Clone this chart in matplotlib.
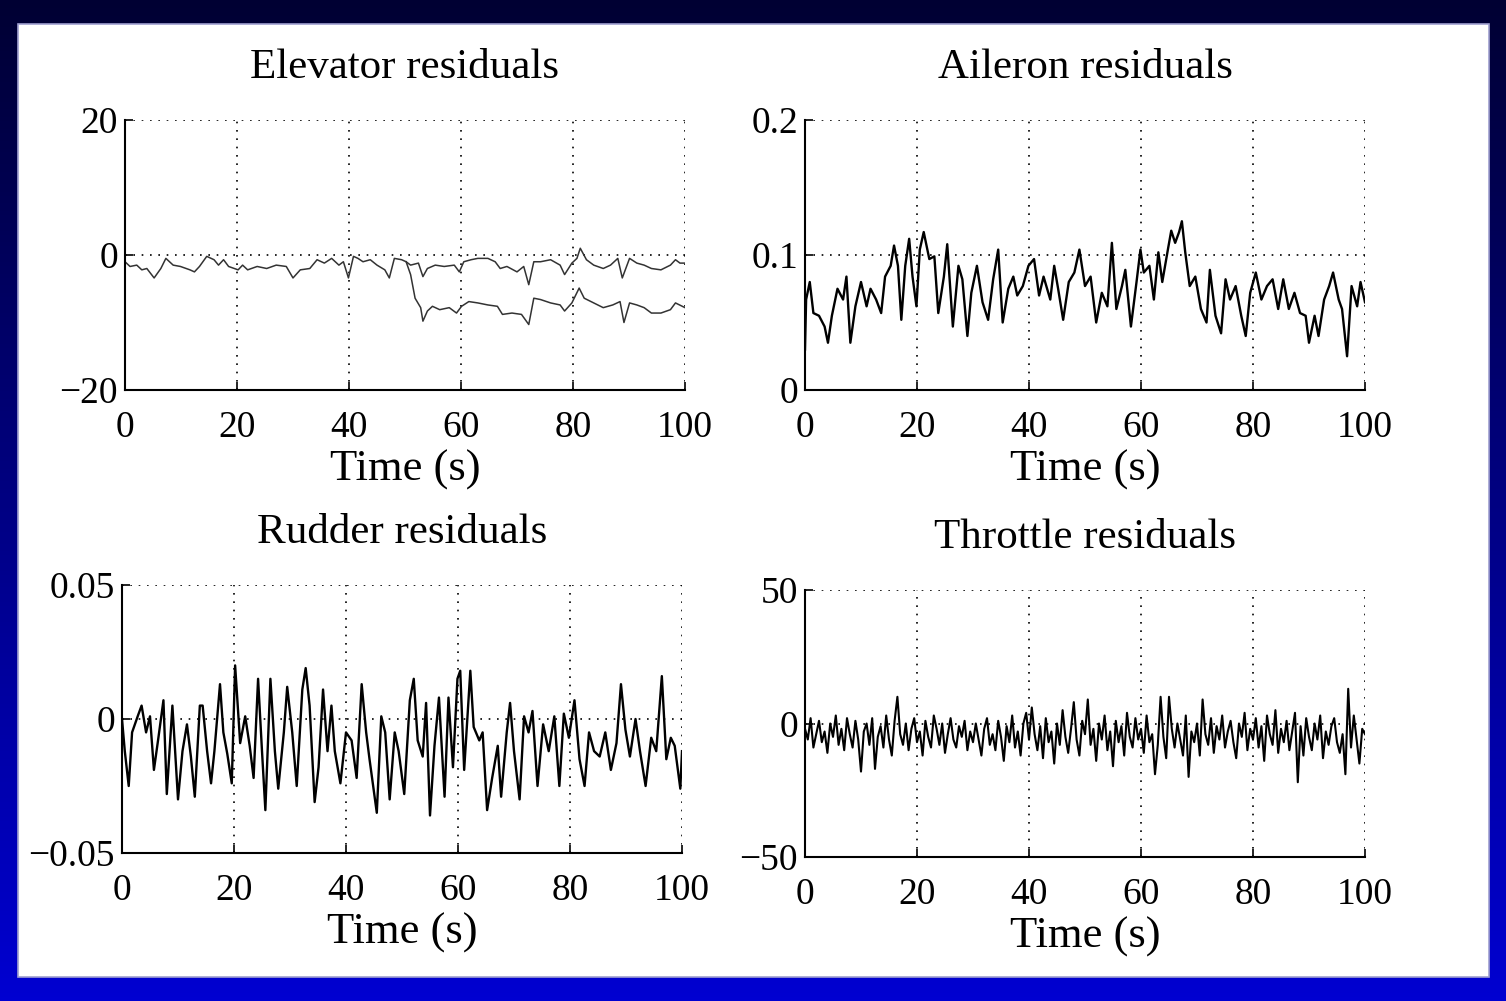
import numpy as np
import matplotlib
matplotlib.use("Agg")
import matplotlib.pyplot as plt
from matplotlib.patches import Rectangle

plt.rcParams['font.family'] = ['Liberation Serif', 'DejaVu Serif']
plt.rcParams['axes.unicode_minus'] = True

# ---- data ----
# elevator: common trace, then the faulty branch splitting off near t=50
elev_t = [0, 0.9, 2.1, 3.0, 3.9, 5.2, 6.4, 7.3, 8.6, 9.9, 11.6, 12.4, 13.3, 14.6, 15.9, 16.7,
          17.6, 18.5, 20.2, 21.0, 21.9, 23.6, 25.3, 27.0, 28.8, 30.0, 31.3, 33.0, 34.3, 35.6,
          36.9, 38.2, 39.0, 39.9, 40.8, 41.6, 42.5, 43.8, 45.0, 46.4, 47.2, 48.1, 49.4, 50.2,
          51.0, 52.4, 53.2, 54.0, 55.4, 57.0, 58.8, 59.7, 60.5, 61.8, 63.0, 64.8, 66.1, 67.0,
          68.2, 70.0, 71.2, 72.1, 73.0, 74.2, 76.0, 77.7, 78.5, 79.8, 80.7, 81.3, 82.4, 83.7,
          85.4, 86.7, 88.0, 88.8, 90.1, 91.4, 92.7, 94.0, 95.7, 97.4, 98.3, 99.1, 100]
elev_v = [-1.0, -1.7, -1.5, -2.2, -2.0, -3.4, -2.0, -0.5, -1.5, -1.7, -2.2, -2.5, -1.7, -0.2,
          -0.7, -1.5, -0.7, -1.7, -2.2, -1.5, -2.2, -1.7, -2.0, -1.5, -1.7, -3.4, -2.2, -2.0,
          -0.7, -1.2, -0.5, -1.5, -1.0, -3.4, -0.2, -0.5, -1.0, -0.7, -1.5, -2.2, -3.4, -0.5,
          -0.7, -1.0,
          -1.5, -1.2, -3.2, -2.0, -1.5, -1.7, -1.5, -2.5, -1.0, -0.7, -0.5, -0.5, -1.0, -2.0,
          -1.7, -2.5, -1.7, -4.4, -1.0, -1.0, -0.7, -1.5, -2.9, -1.2, -0.5, 1.0, -0.7, -1.5,
          -2.0, -1.5, -0.5, -3.4, -0.5, -1.2, -1.5, -2.0, -2.2, -1.5, -0.7, -1.2, -1.2]
elev2_t = [50.2, 51.0, 51.8, 52.8, 53.2, 54.0, 54.9, 56.2, 57.9, 59.2, 60.1, 61.4, 63.0, 64.8,
           66.5, 67.4, 69.1, 70.8, 72.1, 73.0, 74.2, 76.0, 77.7, 78.5, 79.8, 81.1, 82.0, 83.7,
           85.4, 87.1, 88.4, 89.1, 90.1, 91.4, 92.7, 94.0, 95.7, 97.4, 98.3, 100]
elev2_v = [-1.0, -2.9, -6.4, -7.8, -9.8, -8.3, -7.6, -8.1, -7.8, -8.6, -7.6, -6.9, -7.1, -7.4,
           -7.6, -8.8, -8.6, -8.8, -10.3, -6.4, -6.6, -7.1, -7.4, -8.3, -7.1, -4.9, -6.4, -7.1,
           -7.8, -7.4, -6.9, -10.0, -7.1, -7.4, -7.8, -8.6, -8.6, -8.1, -7.1, -7.8]

ail_t = [0, 0.2, 0.85, 1.5, 2.5, 3.5, 4.1, 4.8, 5.8, 6.8, 7.4, 8.1, 9.0, 10.0, 11.0, 11.7, 12.7,
         13.6, 14.3, 15.3, 15.9, 16.6, 17.2, 17.9, 18.6, 19.2, 19.9, 20.5, 21.2, 22.2, 23.1,
         23.8, 24.8, 25.4, 26.4, 27.4, 28.1, 29.0, 29.7, 30.7, 31.7, 32.7, 33.6, 34.5, 35.3,
         36.3, 37.2, 37.9, 38.9, 39.9, 40.9, 41.8, 42.6, 43.8, 44.5, 45.2, 46.1, 47.1, 48.1,
         49.0, 50.0, 51.0, 52.0, 53.0, 54.0, 54.8, 55.6, 56.6, 57.2, 58.2, 59.2, 59.9, 60.5,
         61.5, 62.3, 63.1, 63.8, 64.8, 65.4, 66.1, 66.8, 67.3, 67.9, 68.7, 69.7, 70.7, 71.7,
         72.3, 73.3, 74.3, 75.1, 75.9, 76.9, 77.9, 78.7, 79.5, 80.5, 81.5, 82.5, 83.5, 84.5,
         85.4, 86.4, 87.4, 88.4, 89.4, 90.0, 91.0, 91.7, 92.7, 93.6, 94.3, 95.3, 95.9, 96.8,
         97.6, 98.6, 99.2, 100]
ail_v = [0.030, 0.067, 0.080, 0.057, 0.055, 0.047, 0.035, 0.055, 0.075, 0.067, 0.084, 0.035,
         0.062, 0.080, 0.062, 0.075, 0.067, 0.057, 0.084, 0.092, 0.107, 0.092, 0.052, 0.092,
         0.112, 0.084, 0.062, 0.104, 0.117, 0.097, 0.099, 0.057, 0.084, 0.108, 0.047, 0.092,
         0.082, 0.040, 0.072, 0.092, 0.065, 0.052, 0.082, 0.104, 0.050, 0.075, 0.084, 0.070,
         0.077, 0.092, 0.097, 0.070, 0.084, 0.067, 0.092, 0.075, 0.052, 0.080, 0.087, 0.104,
         0.077, 0.084, 0.050, 0.072, 0.062, 0.109, 0.060, 0.077, 0.089, 0.047, 0.080, 0.104,
         0.087, 0.092, 0.067, 0.102, 0.080, 0.104, 0.118, 0.109, 0.117, 0.125, 0.102, 0.077,
         0.084, 0.060, 0.050, 0.089, 0.055, 0.042, 0.082, 0.067, 0.077, 0.055, 0.040, 0.072,
         0.087, 0.067, 0.077, 0.082, 0.060, 0.082, 0.060, 0.072, 0.057, 0.055, 0.035, 0.055,
         0.040, 0.067, 0.077, 0.087, 0.067, 0.060, 0.025, 0.077, 0.062, 0.080, 0.065]

rud_t = [0, 0.5, 1.2, 1.8, 2.8, 3.5, 4.3, 5.0, 5.7, 6.5, 7.4, 8.0, 9.0, 10.0, 10.8, 11.6, 12.3,
         13.0, 13.9, 14.4, 15.2, 15.9, 16.5, 17.5, 18.1, 18.8, 19.6, 20.2, 21.1, 22.0, 22.8,
         23.5, 24.3, 25.0, 25.6, 26.5, 27.3, 27.9, 28.9, 29.5, 30.4, 31.2, 32.2, 32.8, 33.5,
         34.4, 35.1, 35.9, 36.7, 37.4, 38.0, 39.0, 40.0, 41.0, 41.9, 42.8, 43.6, 44.2, 45.5,
         46.3, 47.0, 47.8, 48.7, 49.4, 50.4, 51.4, 52.1, 52.8, 53.7, 54.3, 55.0, 55.8, 56.6,
         57.6, 58.3, 59.1, 59.9, 60.4, 61.1, 62.2, 62.8, 63.8, 64.4, 65.2, 66.1, 67.1, 67.7,
         68.7, 69.3, 70.0, 71.0, 71.8, 72.6, 73.3, 74.2, 75.2, 76.2, 77.2, 78.1, 78.9, 79.8,
         80.8, 81.7, 82.6, 83.4, 84.3, 85.3, 86.3, 87.3, 88.3, 89.1, 89.9, 90.7, 91.7, 92.5,
         93.5, 94.5, 95.4, 96.4, 97.2, 98.0, 98.7, 99.7, 100]
rud_v = [0.000, -0.012, -0.025, -0.005, 0.001, 0.005, -0.005, 0.001, -0.019, -0.007, 0.007,
         -0.028, 0.005, -0.030, -0.012, -0.002, -0.014, -0.029, 0.005, 0.005, -0.012, -0.024,
         -0.012, 0.013, -0.005, -0.013, -0.024, 0.020, -0.009, 0.001, -0.010, -0.022, 0.015,
         -0.012, -0.034, 0.015, -0.012, -0.026, -0.005, 0.012, -0.005, -0.025, 0.011, 0.019,
         0.005, -0.031, -0.018, 0.011, -0.012, 0.005, -0.012, -0.024, -0.005, -0.008, -0.022,
         0.013, -0.005, -0.015, -0.035, 0.001, -0.005, -0.030, -0.005, -0.012, -0.028, 0.007,
         0.015, -0.008, -0.014, 0.006, -0.036, -0.010, 0.008, -0.029, 0.008, -0.018, 0.015,
         0.018, -0.019, 0.018, -0.003, -0.008, -0.005, -0.034, -0.022, -0.010, -0.029, -0.005,
         0.006, -0.012, -0.030, 0.001, -0.005, 0.003, -0.025, -0.002, -0.012, 0.001, -0.025,
         0.002, -0.007, 0.007, -0.015, -0.025, -0.005, -0.012, -0.014, -0.005, -0.019, -0.009,
         0.013, -0.004, -0.014, 0.000, -0.012, -0.025, -0.007, -0.012, 0.016, -0.015, -0.007,
         -0.010, -0.026, -0.012]

# throttle: one value every 0.5 s
thr_v = [-2, -6, 2, -9, -4, 1, -7, -3, -11, 0, -5, 3, -8, -2, -10, 2, -4, -9, 1, -6,
         -18, -3, 0, -8, 2, -17, -5, -1, -9, 3, -6, -12, 1, 10, -4, -8, 0, -10, -2, 2,
         -7, -3, -12, 1, -5, -9, 3, -2, -8, 0, -11, -4, 2, -6, -9, -1, -5, 1, -10, -3,
         -7, 0, -6, -12, -2, 2, -8, -4, -10, 1, -5, -14, -1, -7, 3, -9, -3, -12, 0, 4,
         -6, 6, -4, -10, -1, -13, 2, -7, -3, -15, 0, -8, 5, -5, -11, -2, 8, -6, -12, 1,
         -4, 9, -8, -2, -14, 0, -6, 3, -10, -3, -16, 1, -7, -1, -12, 4, -5, -9, 2, -6,
         -2, -11, 3, -7, -4, -19, -8, 10, -5, -13, 10, -2, -9, 0, -6, -12, 3, -20, -3, -7,
         0, -12, 9, -4, -8, 2, -11, -1, -6, 3, -9, -3, 1, -7, -13, 0, -5, 4, -10, -2,
         -6, 2, -9, -1, -14, 3, -4, -8, 5, -11, -2, -7, 1, -10, -3, 4, -22, -1, -12, 2,
         -5, -10, 0, -6, 3, -13, -3, -8, -1, 2, -7, -11, -4, -19, 13, -9, 3, -6, -15, -2,
         -4]
thr_t = np.linspace(0, 100, len(thr_v))

titles = ["Elevator residuals", "Aileron residuals", "Rudder residuals", "Throttle residuals"]
xticks = [0, 20, 40, 60, 80, 100]
yticks = [[-20, 0, 20], [0, 0.1, 0.2], [-0.05, 0, 0.05], [-50, 0, 50]]
ytick_labels = [["\u221220", "0", "20"], ["0", "0.1", "0.2"],
                ["\u22120.05", "0", "0.05"], ["\u221250", "0", "50"]]

# ---- figure ----
fig = plt.figure(figsize=(15.06, 10.01), dpi=100)

bg = fig.add_axes([0, 0, 1, 1], zorder=-10)
grad = np.linspace(0, 1, 256)
cols = np.zeros((256, 1, 3))
cols[:, 0, 2] = 0.20 + 0.62 * grad
bg.imshow(cols, aspect='auto', extent=[0, 1, 0, 1], origin='upper')
bg.add_patch(Rectangle((18 / 1506, 1 - 977 / 1001), 1471 / 1506, 953 / 1001,
                       facecolor='white', edgecolor='#a0a0d0', lw=1.2))
bg.set_xlim(0, 1)
bg.set_ylim(0, 1)
bg.axis('off')

W = 560 / 1506
pos = [[125 / 1506, 1 - 390 / 1001, W, 270 / 1001],
       [805 / 1506, 1 - 390 / 1001, W, 270 / 1001],
       [122 / 1506, 1 - 853 / 1001, W, 268 / 1001],
       [805 / 1506, 1 - 857 / 1001, W, 267 / 1001]]

axes = [fig.add_axes(p) for p in pos]

axes[0].plot(elev_t, elev_v, color='#333333', lw=1.1)
axes[0].plot(elev2_t, elev2_v, color='#333333', lw=1.1)
axes[1].plot(ail_t, ail_v, color='black', lw=1.7)
axes[2].plot(rud_t, rud_v, color='black', lw=1.7)
axes[3].plot(thr_t, thr_v, color='black', lw=1.5)

for i, ax in enumerate(axes):
    ax.set_xlim(0, 100)
    ax.set_ylim(yticks[i][0], yticks[i][-1])
    ax.set_xticks(xticks)
    ax.set_xticklabels([str(x) for x in xticks])
    ax.set_yticks(yticks[i])
    ax.set_yticklabels(ytick_labels[i])
    ax.spines['top'].set_visible(False)
    ax.spines['right'].set_visible(False)
    for s in ['left', 'bottom']:
        ax.spines[s].set_linewidth(1.5)
    ax.tick_params(direction='in', length=6, width=1.2, labelsize=27)
    ax.tick_params(axis='x', pad=15)
    ax.tick_params(axis='y', pad=5)
    ax.grid(True, color='black', linestyle=(0, (1, 4)), linewidth=1.2)
    ax.set_axisbelow(True)
    ax.set_title(titles[i], fontsize=31, pad=30)
    ax.set_xlabel("Time (s)", fontsize=32, labelpad=3)

fig.savefig("out.png", dpi=100)
